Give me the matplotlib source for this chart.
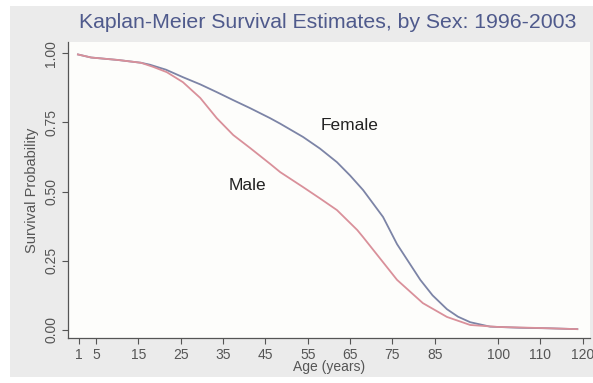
import matplotlib.pyplot as plt
from matplotlib.patches import Rectangle

# Dados (idade em anos, probabilidade de sobrevivência)
idade_fem = [0.7, 3.8, 10.2, 15.6, 17.7, 21.5, 25.5, 29.6, 33.5, 37.4, 41.4, 46.1, 48.5,
             53.9, 57.9, 61.9, 65.0, 68.1, 72.8, 76.1, 81.6, 84.5, 87.9, 90.5, 93.4, 98.1,
             105.0, 112.0, 118.7]
surv_fem = [0.995, 0.984, 0.975, 0.965, 0.958, 0.940, 0.913, 0.887, 0.859, 0.830, 0.801, 0.765, 0.745,
            0.697, 0.655, 0.606, 0.558, 0.505, 0.408, 0.310, 0.181, 0.125, 0.075, 0.048, 0.028, 0.012,
            0.008, 0.006, 0.003]

idade_masc = [0.7, 3.8, 10.2, 15.6, 18.5, 21.7, 25.5, 29.6, 33.5, 37.4, 41.4, 46.1, 48.5,
              53.9, 57.9, 61.9, 66.7, 68.1, 72.0, 76.1, 82.2, 87.9, 93.4, 99.8,
              110.0, 118.7]
surv_masc = [0.995, 0.984, 0.975, 0.965, 0.950, 0.931, 0.895, 0.838, 0.765, 0.704, 0.657, 0.600, 0.570,
             0.516, 0.475, 0.433, 0.361, 0.335, 0.260, 0.181, 0.097, 0.047, 0.018, 0.011,
             0.007, 0.003]

xticks = [1, 5, 15, 25, 35, 45, 55, 65, 75, 85, 100, 110, 120]
yticks = [0.0, 0.25, 0.5, 0.75, 1.0]
ytick_labels = ['0.00', '0.25', '0.50', '0.75', '1.00']

plt.rcParams['font.family'] = ['Liberation Sans', 'DejaVu Sans']

fig = plt.figure(figsize=(5.93, 3.83), dpi=100)
fig.patch.set_facecolor('white')
# Fundo cinza do gráfico
fig.add_artist(Rectangle((10 / 593, 6 / 383), 1 - 10 / 593, 1 - 12 / 383,
                         transform=fig.transFigure, facecolor='#ebebeb', edgecolor='none', zorder=0))

ax = fig.add_axes([68 / 593, 45 / 383, 522 / 593, 296 / 383])
ax.set_facecolor('#fdfdfb')

ax.plot(idade_fem, surv_fem, color='#7c84a6', lw=1.3)
ax.plot(idade_masc, surv_masc, color='#d9909a', lw=1.3)

ax.set_xlim(-1.65, 121.7)
ax.set_ylim(-0.029, 1.04)
ax.set_xticks(xticks)
ax.set_yticks(yticks)
ax.set_yticklabels(ytick_labels, rotation=90, va='center')
ax.tick_params(colors='#555555', labelsize=10, length=4, width=0.8, pad=3)

for lado in ['top', 'right']:
    ax.spines[lado].set_visible(False)
for lado in ['left', 'bottom']:
    ax.spines[lado].set_color('#555555')
    ax.spines[lado].set_linewidth(0.9)

ax.set_xlabel('Age (years)', fontsize=10, color='#555555', labelpad=-1)
ax.set_ylabel('Survival Probability', fontsize=10.5, color='#555555', labelpad=4)

ax.text(65.0, 0.74, 'Female', fontsize=12.5, color='#222222', ha='center', va='center')
ax.text(40.7, 0.52, 'Male', fontsize=12.5, color='#222222', ha='center', va='center')

fig.text(0.553, 0.942, 'Kaplan-Meier Survival Estimates, by Sex: 1996-2003',
         fontsize=15.3, color='#4f5a8c', ha='center', va='center')

fig.savefig('out.png', dpi=100)
